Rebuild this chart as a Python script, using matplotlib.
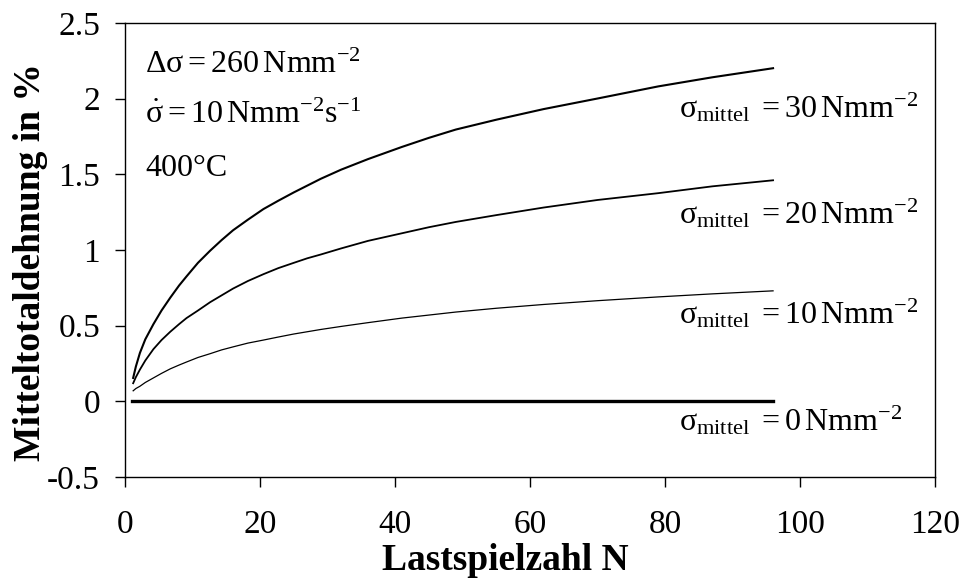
import matplotlib
matplotlib.use("Agg")
import matplotlib.pyplot as plt

plt.rcParams['font.family'] = ['Liberation Serif', 'DejaVu Serif']
plt.rcParams['mathtext.fontset'] = 'custom'
plt.rcParams['mathtext.rm'] = 'Liberation Serif'
plt.rcParams['mathtext.it'] = 'Liberation Serif'
plt.rcParams['mathtext.bf'] = 'Liberation Serif:bold'

# Lastspielzahl N
N = [1.2, 1.6, 2.2, 3.0, 4.2, 5.4, 6.7, 8.0, 9.1, 10.8, 12.6, 14.3, 16, 18.2, 20.5,
     22.7, 25, 27, 29, 32, 36, 41, 45, 49, 55, 62, 70, 79, 87, 96]
# Mitteltotaldehnung in % je Mittelspannung
eps_30 = [0.155, 0.23, 0.32, 0.41, 0.51, 0.60, 0.685, 0.765, 0.825, 0.915, 0.995, 1.065,
          1.13, 1.20, 1.27, 1.325, 1.38, 1.425, 1.47, 1.53, 1.60, 1.68, 1.74, 1.795,
          1.86, 1.93, 2.00, 2.08, 2.14, 2.20]
eps_20 = [0.12, 0.16, 0.21, 0.27, 0.345, 0.405, 0.46, 0.51, 0.55, 0.60, 0.655, 0.70,
          0.745, 0.795, 0.84, 0.88, 0.915, 0.945, 0.97, 1.01, 1.06, 1.11, 1.15, 1.185,
          1.23, 1.28, 1.33, 1.375, 1.42, 1.46]
eps_10 = [0.07, 0.085, 0.10, 0.125, 0.155, 0.185, 0.215, 0.24, 0.26, 0.29, 0.315, 0.34,
          0.36, 0.385, 0.405, 0.425, 0.445, 0.46, 0.475, 0.495, 0.52, 0.55, 0.57, 0.59,
          0.615, 0.64, 0.665, 0.69, 0.71, 0.73]
N_0 = [1, 96]
eps_0 = [0.0, 0.0]

labels = [r'$\sigma_{\mathrm{mittel}}\;=30\,\mathrm{Nmm}^{-2}$',
          r'$\sigma_{\mathrm{mittel}}\;=20\,\mathrm{Nmm}^{-2}$',
          r'$\sigma_{\mathrm{mittel}}\;=10\,\mathrm{Nmm}^{-2}$',
          r'$\sigma_{\mathrm{mittel}}\;=0\,\mathrm{Nmm}^{-2}$']
label_y = [1.94, 1.24, 0.58, -0.13]

fig = plt.figure(figsize=(9.62, 5.84), dpi=100)
ax = fig.add_axes([0.13, 0.183, 0.842, 0.778])

ax.plot(N, eps_30, color='black', lw=1.5)
ax.plot(N, eps_20, color='black', lw=1.3)
ax.plot(N, eps_10, color='black', lw=0.9)
ax.plot(N_0, eps_0, color='black', lw=2.4)

for txt, yy in zip(labels, label_y):
    ax.text(82, yy, txt, fontsize=23, ha='left', va='center')

ax.text(3, 2.22, r'$\Delta\sigma = 260\,\mathrm{Nmm}^{-2}$', fontsize=23, va='center')
ax.text(3, 1.89, r'$\dot{\sigma} = 10\,\mathrm{Nmm}^{-2}\mathrm{s}^{-1}$', fontsize=23, va='center')
ax.text(3, 1.54, '400°C', fontsize=23, va='center')

ax.set_xlim(0, 120)
ax.set_ylim(-0.5, 2.5)
ax.set_xticks([0, 20, 40, 60, 80, 100, 120])
ax.set_yticks([-0.5, 0, 0.5, 1, 1.5, 2, 2.5])
ax.set_yticklabels(['-0.5', '0', '0.5', '1', '1.5', '2', '2.5'])
ax.tick_params(direction='out', length=7, width=1, labelsize=24)
ax.tick_params(axis='y', pad=11)
ax.tick_params(axis='x', pad=16)
for s in ax.spines.values():
    s.set_linewidth(1.0)

ax.set_xlabel('Lastspielzahl N', fontsize=27, fontweight='bold', va='center')
ax.xaxis.set_label_coords(0.469, -0.183)
ax.set_ylabel('Mitteltotaldehnung in %', fontsize=27, fontweight='bold', va='center')
ax.yaxis.set_label_coords(-0.117, 0.474)

fig.savefig('out.png', dpi=100)
